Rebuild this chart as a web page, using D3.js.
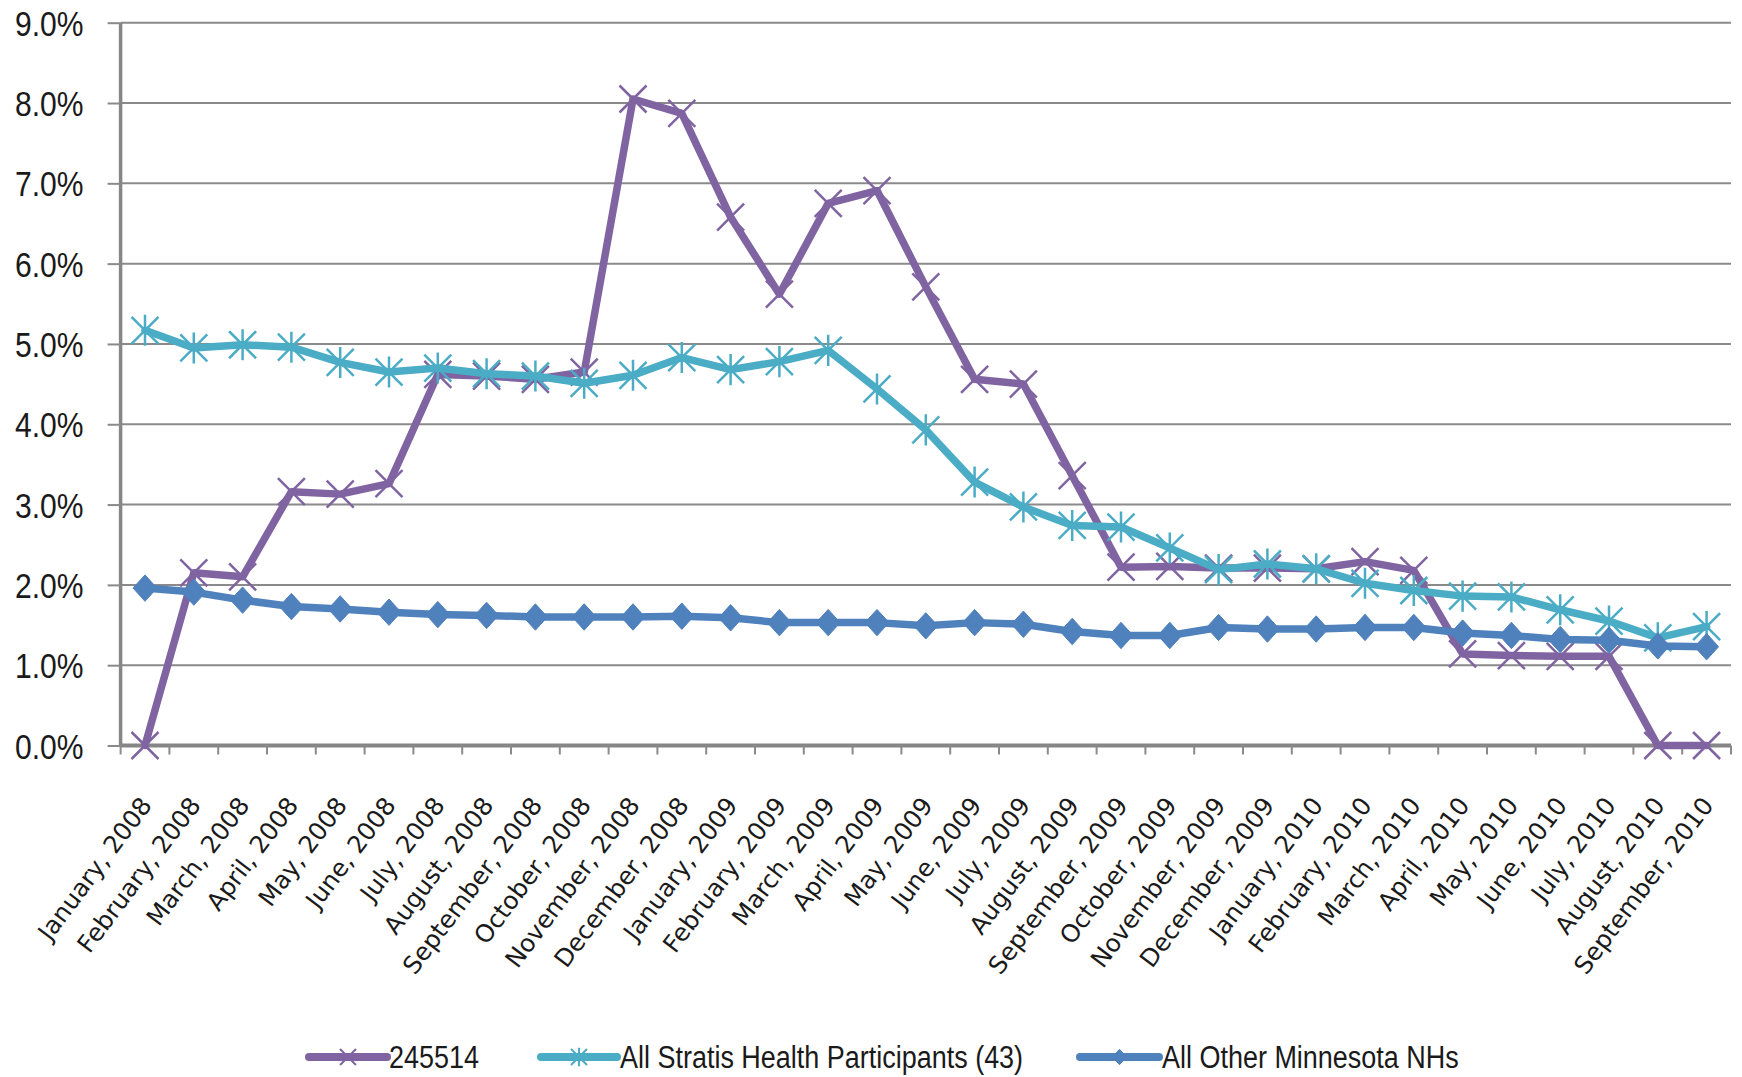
<!DOCTYPE html>
<html>
<head>
<meta charset="utf-8">
<script src="https://cdn.jsdelivr.net/npm/d3@7"></script>
<style>
  html, body { margin: 0; padding: 0; background: #fff; }
  svg { display: block; }
</style>
</head>
<body>
<svg id="chart" width="1742" height="1077"></svg>
<script>
const months = ["January, 2008","February, 2008","March, 2008","April, 2008","May, 2008","June, 2008","July, 2008","August, 2008","September, 2008","October, 2008","November, 2008","December, 2008","January, 2009","February, 2009","March, 2009","April, 2009","May, 2009","June, 2009","July, 2009","August, 2009","September, 2009","October, 2009","November, 2009","December, 2009","January, 2010","February, 2010","March, 2010","April, 2010","May, 2010","June, 2010","July, 2010","August, 2010","September, 2010"];

const facility245514 = [0.0, 2.15, 2.10, 3.16, 3.13, 3.26, 4.62, 4.60, 4.56, 4.65, 8.05, 7.87, 6.58, 5.62, 6.75, 6.91, 5.71, 4.56, 4.50, 3.36, 2.22, 2.23, 2.21, 2.21, 2.20, 2.29, 2.18, 1.14, 1.12, 1.11, 1.11, 0.0, 0.0];
const stratisParticipants = [5.17, 4.95, 4.99, 4.96, 4.77, 4.65, 4.70, 4.63, 4.60, 4.51, 4.61, 4.83, 4.68, 4.78, 4.92, 4.44, 3.93, 3.28, 2.97, 2.74, 2.72, 2.46, 2.19, 2.26, 2.20, 2.02, 1.93, 1.86, 1.85, 1.69, 1.55, 1.34, 1.48];
const otherMinnesotaNHs = [1.96, 1.91, 1.81, 1.73, 1.70, 1.66, 1.63, 1.62, 1.60, 1.60, 1.60, 1.61, 1.59, 1.53, 1.53, 1.53, 1.49, 1.53, 1.51, 1.42, 1.37, 1.37, 1.47, 1.45, 1.45, 1.47, 1.47, 1.40, 1.37, 1.32, 1.31, 1.24, 1.23];

const seriesNames = ["245514", "All Stratis Health Participants (43)", "All Other Minnesota NHs"];
const seriesColors = ["#8064A2", "#4BACC6", "#4F81BD"];
const seriesMarkers = ["x", "asterisk", "diamond"];
const yTicks = [0, 1, 2, 3, 4, 5, 6, 7, 8, 9];

const series = [facility245514, stratisParticipants, otherMinnesotaNHs].map((vals, i) => ({
  name: seriesNames[i], color: seriesColors[i], marker: seriesMarkers[i],
  values: vals.map((v, j) => ({ m: months[j], v }))
}));

const svg = d3.select("#chart");
svg.append("rect").attr("width", 1742).attr("height", 1077).attr("fill", "#fff");

const pL = 120.6, pR = 1731, pT = 22.7, pB = 745.5;
const x = d3.scaleBand().domain(months).range([pL, pR]).padding(0);
const y = d3.scaleLinear().domain([0, 9]).range([pB, pT]);
const cx = m => x(m) + x.bandwidth() / 2;

// gridlines
svg.append("g").selectAll("line").data(yTicks.filter(t => t > 0)).join("line")
  .attr("x1", pL).attr("x2", pR)
  .attr("y1", d => y(d)).attr("y2", d => y(d))
  .attr("stroke", "#8a8a8a").attr("stroke-width", 2);

// y axis
const yAxis = svg.append("g").attr("transform", `translate(${pL},0)`)
  .call(d3.axisLeft(y).tickValues(yTicks).tickFormat(d => d.toFixed(1) + "%").tickSize(13).tickPadding(0));
yAxis.select(".domain").attr("stroke", "#868686").attr("stroke-width", 3.5).attr("d", `M0,${pT}V${pB}`);
yAxis.selectAll(".tick line").attr("stroke", "#8a8a8a").attr("stroke-width", 2);
yAxis.selectAll(".tick text")
  .attr("x", null)
  .attr("transform", "translate(-37,0) scale(0.86,1)")
  .attr("font-family", "'Liberation Sans', sans-serif")
  .attr("font-size", 35).attr("fill", "#1a1a1a").attr("dy", "0.36em");

// x axis
const xAxis = svg.append("g").attr("transform", `translate(0,${pB})`)
  .call(d3.axisBottom(x).tickSize(0).tickFormat(""));
xAxis.select(".domain").attr("stroke", "#868686").attr("stroke-width", 4).attr("d", `M${pL},0H${pR}`);
const bounds = months.map(m => x(m)).concat([pR]);
xAxis.append("g").selectAll("line").data(bounds).join("line")
  .attr("x1", d => d).attr("x2", d => d).attr("y1", 0).attr("y2", 9)
  .attr("stroke", "#8a8a8a").attr("stroke-width", 2);

svg.append("g").selectAll("text").data(months).join("text")
  .attr("transform", d => `translate(${cx(d) + 8},${pB + 60}) rotate(-53)`)
  .attr("text-anchor", "end")
  .attr("font-family", "'DejaVu Sans', sans-serif")
  .attr("font-size", 24.5)
  .attr("fill", "#1a1a1a")
  .text(d => d);

// markers
function markerPath(type, s) {
  if (type === "x") return `M${-s},${-s}L${s},${s}M${-s},${s}L${s},${-s}`;
  if (type === "asterisk") return `M${-s},${-s}L${s},${s}M${-s},${s}L${s},${-s}M0,${-s * 1.15}L0,${s * 1.15}`;
  return `M0,${-s * 1.1}L${s},0L0,${s * 1.1}L${-s},0Z`;
}

const line = d3.line().x(d => cx(d.m)).y(d => y(d.v)).curve(d3.curveLinear);

series.forEach(s => {
  const g = svg.append("g");
  g.append("path").datum(s.values).attr("d", line)
    .attr("fill", "none").attr("stroke", s.color).attr("stroke-width", 7.5)
    .attr("stroke-linejoin", "round").attr("stroke-linecap", "round");
  g.selectAll("path.mk").data(s.values).join("path").attr("class", "mk")
    .attr("transform", d => `translate(${cx(d.m)},${y(d.v)})`)
    .attr("d", markerPath(s.marker, s.marker === "diamond" ? 12 : 13.5))
    .attr("fill", s.marker === "diamond" ? s.color : "none")
    .attr("stroke", s.color)
    .attr("stroke-width", s.marker === "diamond" ? 1 : 2.5);
});

// legend
const legendItems = [
  { x0: 309, x1: 387, tx: 389 },
  { x0: 541, x1: 617, tx: 620 },
  { x0: 1080, x1: 1159, tx: 1162 }
];
const ly = 1057;
const lg = svg.append("g");
series.forEach((s, i) => {
  const it = legendItems[i];
  lg.append("line").attr("x1", it.x0).attr("x2", it.x1).attr("y1", ly).attr("y2", ly)
    .attr("stroke", s.color).attr("stroke-width", 8).attr("stroke-linecap", "round");
  lg.append("path").attr("transform", `translate(${(it.x0 + it.x1) / 2},${ly})`)
    .attr("d", markerPath(s.marker, s.marker === "diamond" ? 7 : 8))
    .attr("fill", s.marker === "diamond" ? s.color : "none")
    .attr("stroke", s.color).attr("stroke-width", s.marker === "diamond" ? 1 : 2);
  lg.append("text").attr("transform", `translate(${it.tx},${ly}) scale(0.87,1)`).attr("dy", "0.36em")
    .attr("font-family", "'Liberation Sans', sans-serif")
    .attr("font-size", 31).attr("fill", "#1a1a1a").text(s.name);
});
</script>
</body>
</html>
